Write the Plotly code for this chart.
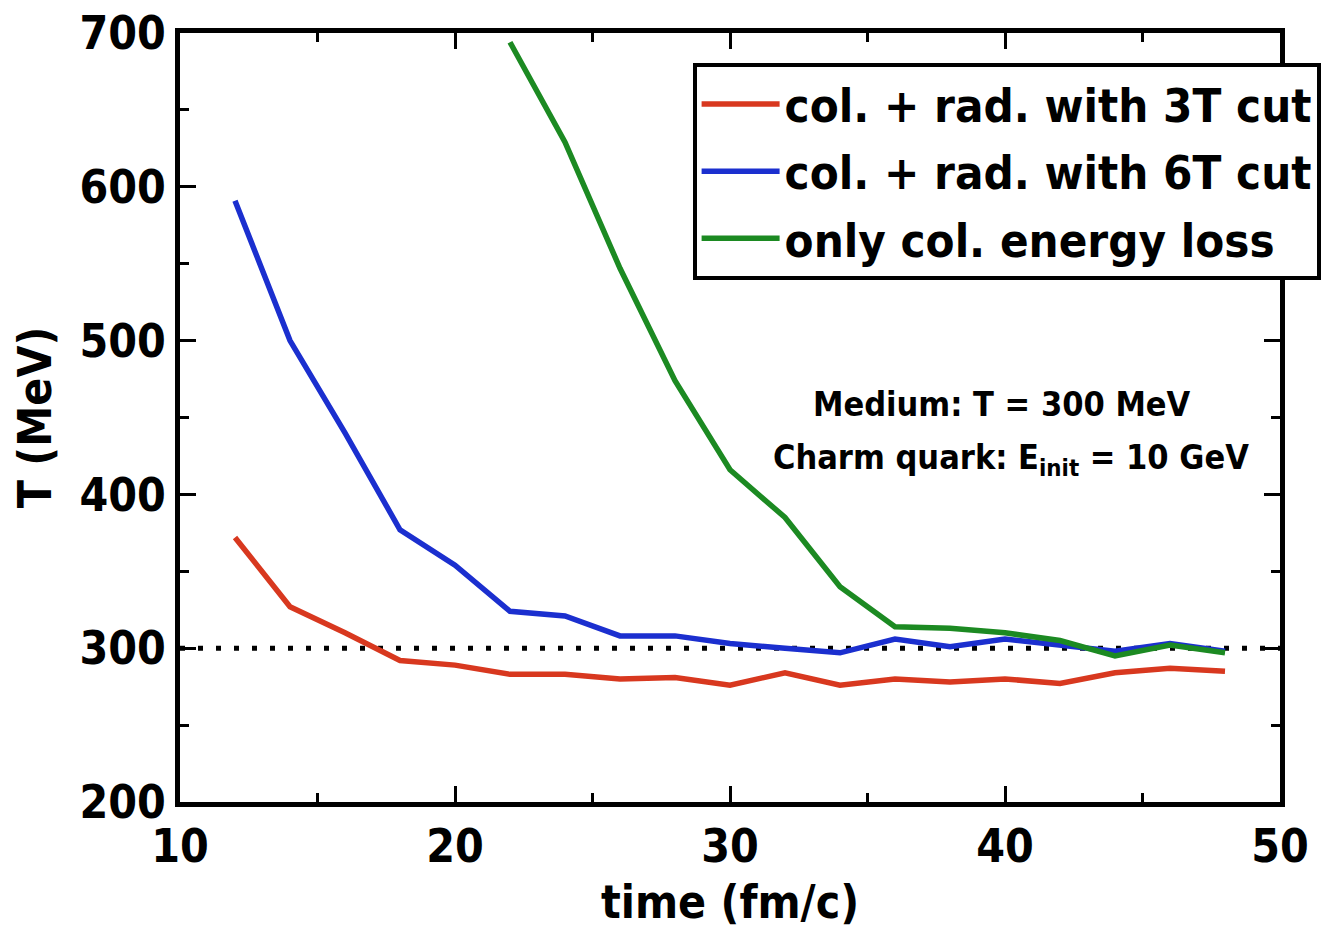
import plotly.graph_objects as go

time = [12, 14, 16, 18, 20, 22, 24, 26, 28, 30, 32, 34, 36, 38, 40, 42, 44, 46, 48]
t_3T = [372, 327, 310, 292, 289, 283, 283, 280, 281, 276, 284, 276, 280, 278, 280, 277, 284, 287, 285]
t_6T = [591, 500, 440, 377, 354, 324, 321, 308, 308, 303, 300, 297, 306, 301, 306, 302, 298, 303, 298]
time_col = [22, 24, 26, 28, 30, 32, 34, 36, 38, 40, 42, 44, 46, 48]
t_col = [694, 629, 547, 474, 416, 385, 340, 314, 313, 310, 305, 295, 302, 297]

names = ["col. + rad. with 3T cut", "col. + rad. with 6T cut", "only col. energy loss"]
colors = ["#d8381f", "#1b2fcf", "#1c8a22"]
medium_T = 300

FONT = "DejaVu Sans Condensed"

fig = go.Figure()
for xs, ys, nm, c in [(time, t_3T, names[0], colors[0]),
                      (time, t_6T, names[1], colors[1]),
                      (time_col, t_col, names[2], colors[2])]:
    fig.add_trace(go.Scatter(x=xs, y=ys, mode="lines", name=nm, legendgroup=nm,
                             line=dict(color=c, width=5.5)))

fig.add_shape(type="line", xref="paper", yref="y", x0=0, x1=1, y0=medium_T, y1=medium_T,
              line=dict(color="black", width=5, dash="5px,13px"), layer="below")

axis_common = dict(
    showline=True, linewidth=5, linecolor="black", mirror="ticks",
    ticks="inside", ticklen=16, tickwidth=3, tickcolor="black",
    showgrid=False, zeroline=False, automargin=False,
    tickfont=dict(family=FONT, size=46, color="black", weight="bold"),
)

fig.update_xaxes(range=[10, 50], tickvals=[10, 20, 30, 40, 50],
                 minor=dict(dtick=5, ticks="inside", ticklen=9, tickwidth=3, tickcolor="black"),
                 title=dict(text="time (fm/c)", font=dict(family=FONT, size=46, color="black", weight="bold")),
                 **axis_common)
fig.update_yaxes(range=[200, 700], tickvals=[200, 300, 400, 500, 600, 700],
                 minor=dict(dtick=50, ticks="inside", ticklen=9, tickwidth=3, tickcolor="black"),
                 title=dict(text="T (MeV)", font=dict(family=FONT, size=46, color="black", weight="bold")),
                 **axis_common)

fig.add_annotation(x=39.9, y=459, xref="x", yref="y", text="Medium: T = 300 MeV",
                   showarrow=False, font=dict(family=FONT, size=34, color="black", weight="bold"))
fig.add_annotation(x=40.2, y=423, xref="x", yref="y", text="Charm quark: E<sub>init</sub> = 10 GeV",
                   showarrow=False, font=dict(family=FONT, size=34, color="black", weight="bold"))

fig.update_layout(
    width=1340, height=931,
    margin=dict(l=180, r=60, t=33, b=129),
    plot_bgcolor="white", paper_bgcolor="white",
    legend=dict(x=0.466, y=0.961, xanchor="left", yanchor="top",
                bgcolor="white", bordercolor="black", borderwidth=4,
                font=dict(family=FONT, size=47, color="black", weight="bold"),
                itemwidth=78, tracegroupgap=3),
    showlegend=True,
)

fig.write_html("out.html")
